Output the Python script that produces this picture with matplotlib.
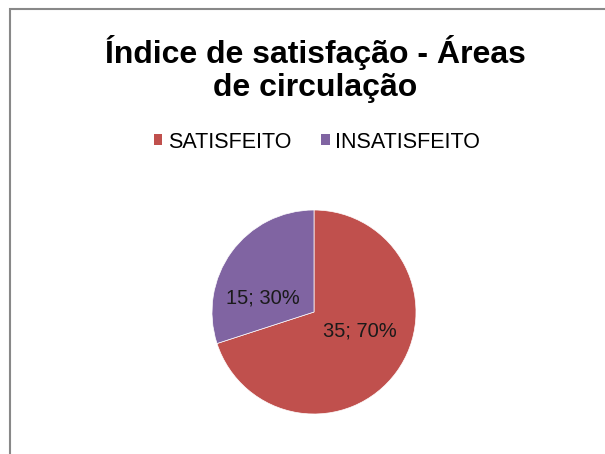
import matplotlib
matplotlib.use("Agg")
import matplotlib.pyplot as plt
from matplotlib.patches import Rectangle

plt.rcParams['font.family'] = ['Liberation Sans', 'DejaVu Sans']

# data
categories = ['SATISFEITO', 'INSATISFEITO']
counts = [35, 15]
colors = ['#C0504D', '#8064A2']
title = 'Índice de satisfação - Áreas\nde circulação'

W, H = 605, 454
fig = plt.figure(figsize=(W / 100, H / 100), dpi=100)

# chart frame (left/top edges visible, rest cut off)
fig.add_artist(Rectangle((10 / W, -0.1), 1.2, (H - 9) / H + 0.1,
                         transform=fig.transFigure, fill=False,
                         edgecolor='#888888', linewidth=1.5))

fig.text(315 / W, 1 - 69 / H, title, ha='center', va='center',
         fontsize=23, fontweight='bold', linespacing=1.16)

# pie: center (314, 312) px, radius 102 px
cx, cy, r = 314, 312, 102
ax = fig.add_axes([(cx - r) / W, (H - cy - r) / H, 2 * r / W, 2 * r / H])
total = sum(counts)
wedges, texts = ax.pie(counts, colors=colors, startangle=90, counterclock=False,
                       radius=1, wedgeprops=dict(linewidth=0.5, edgecolor='white'))
ax.set_xlim(-1, 1)
ax.set_ylim(-1, 1)

label_pos = [(0.45, -0.19), (-0.5, 0.14)]
for v, pos in zip(counts, label_pos):
    ax.text(pos[0], pos[1], f'{v}; {round(100 * v / total)}%', ha='center',
            va='center', fontsize=14.5, color='#1a1a1a')

handles = [Rectangle((0, 0), 1, 1, facecolor=c) for c in colors]
fig.legend(handles, categories, loc='center', bbox_to_anchor=(317 / W, 1 - 142 / H),
           ncol=2, frameon=False, fontsize=15.5, handlelength=0.4, handleheight=0.4,
           handletextpad=0.25, columnspacing=1.4)

fig.savefig('out.png', dpi=100)
